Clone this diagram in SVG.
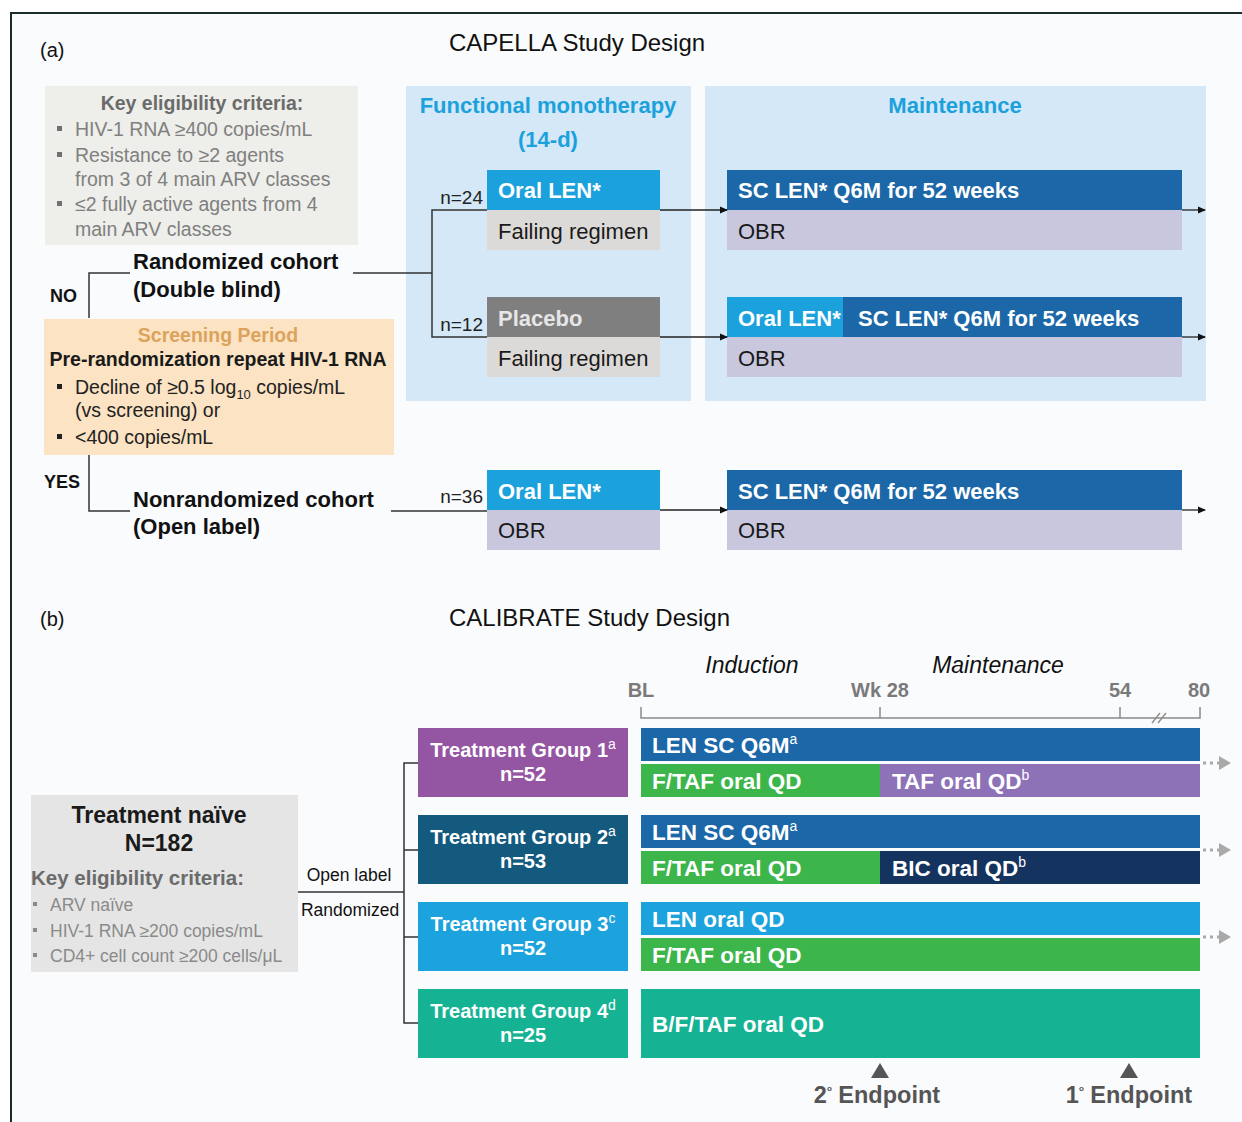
<svg xmlns="http://www.w3.org/2000/svg" width="1242" height="1122" viewBox="0 0 1242 1122">
<defs>
<marker id="ah" markerWidth="8" markerHeight="8" refX="7" refY="4" orient="auto" markerUnits="userSpaceOnUse">
<path d="M0,0.5 L8,4 L0,7.5 Z" fill="#111"/>
</marker>
<marker id="ahg" markerWidth="12" markerHeight="14" refX="11" refY="7" orient="auto" markerUnits="userSpaceOnUse">
<path d="M0,0 L12,7 L0,14 Z" fill="#a9a9a9"/>
</marker>
</defs>
<style>
text{font-family:"Liberation Sans",Arial,sans-serif;}
.b{font-weight:bold;}
.w{fill:#fff;}
.gt{fill:#6b6b6b;}
.gl{fill:#808080;}
.k{fill:#1a1a1a;}
.ln{fill:none;stroke:#333;stroke-width:1.5;}
.arr{fill:none;stroke:#222;stroke-width:1.3;marker-end:url(#ah);}
.ttl{font-size:24px;fill:#111;}
.lbl{font-size:20px;fill:#111;}
.bx{font-size:22px;}
.cohort{font-size:22px;font-weight:bold;fill:#111;}
.ph{font-size:22px;font-weight:bold;fill:#1ba1dc;}
.crit{font-size:19.5px;}
.nn{font-size:19px;fill:#222;}
.tg{font-size:20px;font-weight:bold;fill:#fff;}
.bar{font-size:22.5px;font-weight:bold;fill:#fff;}
.ax{font-size:20px;font-weight:bold;fill:#7a7a7a;}
.it{font-size:23px;font-style:italic;fill:#111;}
.ep{font-size:23.5px;font-weight:bold;fill:#555;}
.sup{font-size:14px;font-weight:normal;}
.oral{fill:#1ba1dc;}
.sclen{fill:#1b67a8;}
.obr{fill:#c8c7de;}
.fail{fill:#dcdad8;}
.green{fill:#3cb54a;}
</style>
<rect x="0" y="0" width="1242" height="1122" fill="#ffffff"/>
<rect id="frame" x="11" y="13" width="1260" height="1140" fill="#fafbfd" stroke="#1d2b2b" stroke-width="2"/>

<!-- ============ (a) CAPELLA ============ -->
<g id="titleA">
<text x="40" y="57" class="lbl">(a)</text>
<text x="449" y="51" class="ttl">CAPELLA Study Design</text>
</g>

<g id="eligibilityA">
<rect x="45" y="86" width="313" height="159" fill="#eeeeea"/>
<text x="202" y="110" class="b crit gt" text-anchor="middle">Key eligibility criteria:</text>
<g fill="#707070">
<rect x="57" y="126" width="5" height="5"/>
<rect x="57" y="152" width="5" height="5"/>
<rect x="57" y="201" width="5" height="5"/>
</g>
<text class="crit gl">
<tspan x="75" y="136">HIV-1 RNA ≥400 copies/mL</tspan>
<tspan x="75" y="162">Resistance to ≥2 agents</tspan>
<tspan x="75" y="186">from 3 of 4 main ARV classes</tspan>
<tspan x="75" y="211">≤2 fully active agents from 4</tspan>
<tspan x="75" y="236">main ARV classes</tspan>
</text>
</g>

<g id="panelFM">
<rect x="406" y="86" width="285" height="315" fill="#d4e8f7"/>
<text x="548" y="113" class="ph" text-anchor="middle">Functional monotherapy</text>
<text x="548" y="147" class="ph" text-anchor="middle">(14-d)</text>
</g>
<g id="panelMaint">
<rect x="705" y="86" width="501" height="315" fill="#d4e8f7"/>
<text x="955" y="113" class="ph" text-anchor="middle">Maintenance</text>
</g>

<g id="screening">
<rect x="44" y="319" width="350" height="136" fill="#fbe3c3"/>
<text x="218" y="342" class="b crit" fill="#dca35c" text-anchor="middle">Screening Period</text>
<text x="218" y="366" class="b crit k" text-anchor="middle">Pre-randomization repeat HIV-1 RNA</text>
<rect x="57" y="384" width="5" height="5" fill="#222"/>
<rect x="57" y="434" width="5" height="5" fill="#222"/>
<text class="crit" fill="#222">
<tspan x="75" y="394">Decline of ≥0.5 log</tspan><tspan font-size="13" dy="5">10</tspan><tspan dy="-5"> copies/mL</tspan>
<tspan x="75" y="417">(vs screening) or</tspan>
<tspan x="75" y="444">&lt;400 copies/mL</tspan>
</text>
</g>

<g id="cohortRandomized">
<text x="133" y="269" class="cohort">Randomized cohort</text>
<text x="133" y="297" class="cohort">(Double blind)</text>
<text x="50" y="302" class="b" font-size="18" fill="#111">NO</text>
</g>
<g id="cohortNonrandomized">
<text x="133" y="507" class="cohort">Nonrandomized cohort</text>
<text x="133" y="534" class="cohort">(Open label)</text>
<text x="44" y="488" class="b" font-size="18" fill="#111">YES</text>
</g>

<g id="armOralLEN24">
<rect x="487" y="170" width="173" height="40" class="oral"/>
<text x="498" y="198" class="bx b w">Oral LEN*</text>
<rect x="487" y="210" width="173" height="40" class="fail"/>
<text x="498" y="239" class="bx k">Failing regimen</text>
<text x="483" y="204" class="nn" text-anchor="end">n=24</text>
</g>
<g id="armPlacebo12">
<rect x="487" y="297" width="173" height="40" fill="#7f7f7f"/>
<text x="498" y="326" class="bx b" fill="#e6e6e6">Placebo</text>
<rect x="487" y="337" width="173" height="40" class="fail"/>
<text x="498" y="366" class="bx k">Failing regimen</text>
<text x="483" y="331" class="nn" text-anchor="end">n=12</text>
</g>
<g id="armOralLEN36">
<rect x="487" y="470" width="173" height="40" class="oral"/>
<text x="498" y="499" class="bx b w">Oral LEN*</text>
<rect x="487" y="510" width="173" height="40" class="obr"/>
<text x="498" y="538" class="bx k">OBR</text>
<text x="483" y="503" class="nn" text-anchor="end">n=36</text>
</g>

<g id="maint1">
<rect x="727" y="170" width="455" height="40" class="sclen"/>
<text x="738" y="198" class="bx b w">SC LEN* Q6M for 52 weeks</text>
<rect x="727" y="210" width="455" height="40" class="obr"/>
<text x="738" y="239" class="bx k">OBR</text>
</g>
<g id="maint2">
<rect x="727" y="297" width="116" height="40" class="oral"/>
<rect x="843" y="297" width="339" height="40" class="sclen"/>
<text x="738" y="326" class="bx b w">Oral LEN*</text>
<text x="858" y="326" class="bx b w">SC LEN* Q6M for 52 weeks</text>
<rect x="727" y="337" width="455" height="40" class="obr"/>
<text x="738" y="366" class="bx k">OBR</text>
</g>
<g id="maint3">
<rect x="727" y="470" width="455" height="40" class="sclen"/>
<text x="738" y="499" class="bx b w">SC LEN* Q6M for 52 weeks</text>
<rect x="727" y="510" width="455" height="40" class="obr"/>
<text x="738" y="538" class="bx k">OBR</text>
</g>

<g id="connectorsA">
<path class="ln" d="M130,273 H89 V318"/>
<path class="ln" d="M89,455 V511 H130"/>
<path class="ln" d="M353,273 H432"/>
<path class="ln" d="M487,210 H432 V337 H487"/>
<path class="ln" d="M391,511 H487"/>
<line class="arr" x1="660" y1="210" x2="727" y2="210"/>
<line class="arr" x1="660" y1="337" x2="727" y2="337"/>
<line class="arr" x1="660" y1="510" x2="727" y2="510"/>
<line class="arr" x1="1182" y1="210" x2="1205" y2="210"/>
<line class="arr" x1="1182" y1="337" x2="1205" y2="337"/>
<line class="arr" x1="1182" y1="510" x2="1205" y2="510"/>
</g>

<!-- ============ (b) CALIBRATE ============ -->
<g id="titleB">
<text x="40" y="626" class="lbl">(b)</text>
<text x="449" y="626" class="ttl">CALIBRATE Study Design</text>
</g>

<g id="naive">
<rect x="31" y="795" width="267" height="177" fill="#e5e5e5"/>
<text x="159" y="823" class="b k" font-size="23" text-anchor="middle">Treatment naïve</text>
<text x="159" y="851" class="b k" font-size="23" text-anchor="middle">N=182</text>
<text x="31" y="885" class="b gt" font-size="20.5">Key eligibility criteria:</text>
<g fill="#8a8a8a">
<rect x="33" y="902" width="4" height="4"/>
<rect x="33" y="928" width="4" height="4"/>
<rect x="33" y="953" width="4" height="4"/>
</g>
<text font-size="17.5" fill="#8a8a8a">
<tspan x="50" y="911">ARV naïve</tspan>
<tspan x="50" y="937">HIV-1 RNA ≥200 copies/mL</tspan>
<tspan x="50" y="962">CD4+ cell count ≥200 cells/μL</tspan>
</text>
</g>

<g id="randLabel">
<text x="349" y="881" font-size="17.5" fill="#111" text-anchor="middle">Open label</text>
<text x="350" y="916" font-size="17.5" fill="#111" text-anchor="middle">Randomized</text>
</g>

<g id="tg1">
<rect x="418" y="728" width="210" height="69" fill="#9455a3"/>
<text x="523" y="757" class="tg" text-anchor="middle">Treatment Group 1<tspan class="sup" dy="-8">a</tspan></text>
<text x="523" y="781" class="tg" text-anchor="middle">n=52</text>
</g>
<g id="tg2">
<rect x="418" y="815" width="210" height="69" fill="#135a7e"/>
<text x="523" y="844" class="tg" text-anchor="middle">Treatment Group 2<tspan class="sup" dy="-8">a</tspan></text>
<text x="523" y="868" class="tg" text-anchor="middle">n=53</text>
</g>
<g id="tg3">
<rect x="418" y="902" width="210" height="69" fill="#1ca2dd"/>
<text x="523" y="931" class="tg" text-anchor="middle">Treatment Group 3<tspan class="sup" dy="-8">c</tspan></text>
<text x="523" y="955" class="tg" text-anchor="middle">n=52</text>
</g>
<g id="tg4">
<rect x="418" y="989" width="210" height="69" fill="#15b394"/>
<text x="523" y="1018" class="tg" text-anchor="middle">Treatment Group 4<tspan class="sup" dy="-8">d</tspan></text>
<text x="523" y="1042" class="tg" text-anchor="middle">n=25</text>
</g>

<g id="timeline">
<text x="752" y="673" class="it" text-anchor="middle">Induction</text>
<text x="998" y="673" class="it" text-anchor="middle">Maintenance</text>
<text x="641" y="697" class="ax" text-anchor="middle">BL</text>
<text x="880" y="697" class="ax" text-anchor="middle">Wk 28</text>
<text x="1120" y="697" class="ax" text-anchor="middle">54</text>
<text x="1199" y="697" class="ax" text-anchor="middle">80</text>
<path d="M641,707 V718 H1200 V707 M880,707 V718 M1120,707 V718" fill="none" stroke="#8a8a8a" stroke-width="1.5"/>
<path d="M1152,723 L1160,713 M1158,723 L1166,713" fill="none" stroke="#8a8a8a" stroke-width="1.3"/>
</g>

<g id="bars1">
<rect x="641" y="728" width="559" height="33" class="sclen"/>
<text x="652" y="753" class="bar">LEN SC Q6M<tspan class="sup" dy="-9">a</tspan></text>
<rect x="641" y="764" width="239" height="33" class="green"/>
<rect x="880" y="764" width="320" height="33" fill="#8e72b8"/>
<text x="652" y="789" class="bar">F/TAF oral QD</text>
<text x="892" y="789" class="bar">TAF oral QD<tspan class="sup" dy="-9">b</tspan></text>
</g>
<g id="bars2">
<rect x="641" y="815" width="559" height="33" class="sclen"/>
<text x="652" y="840" class="bar">LEN SC Q6M<tspan class="sup" dy="-9">a</tspan></text>
<rect x="641" y="851" width="239" height="33" class="green"/>
<rect x="880" y="851" width="320" height="33" fill="#14345f"/>
<text x="652" y="876" class="bar">F/TAF oral QD</text>
<text x="892" y="876" class="bar">BIC oral QD<tspan class="sup" dy="-9">b</tspan></text>
</g>
<g id="bars3">
<rect x="641" y="902" width="559" height="33" fill="#1ca2dd"/>
<text x="652" y="927" class="bar">LEN oral QD</text>
<rect x="641" y="938" width="559" height="33" class="green"/>
<text x="652" y="963" class="bar">F/TAF oral QD</text>
</g>
<g id="bars4">
<rect x="641" y="989" width="559" height="69" fill="#15b394"/>
<text x="652" y="1032" class="bar">B/F/TAF oral QD</text>
</g>

<g id="endpoints">
<path d="M880,1063 L889,1078 L871,1078 Z" fill="#555"/>
<path d="M1129,1063 L1138,1078 L1120,1078 Z" fill="#555"/>
<text x="877" y="1103" class="ep" text-anchor="middle">2<tspan font-size="8" dy="-12">o</tspan><tspan dy="12"> Endpoint</tspan></text>
<text x="1129" y="1103" class="ep" text-anchor="middle">1<tspan font-size="8" dy="-12">o</tspan><tspan dy="12"> Endpoint</tspan></text>
</g>

<g id="connectorsB">
<path class="ln" d="M298,892 H404"/>
<path class="ln" d="M418,763 H404 V1023 H418 M404,850 H418 M404,937 H418"/>
<line x1="1203" y1="763" x2="1230" y2="763" stroke="#a9a9a9" stroke-width="3" stroke-dasharray="3,4" marker-end="url(#ahg)"/>
<line x1="1203" y1="850" x2="1230" y2="850" stroke="#a9a9a9" stroke-width="3" stroke-dasharray="3,4" marker-end="url(#ahg)"/>
<line x1="1203" y1="937" x2="1230" y2="937" stroke="#a9a9a9" stroke-width="3" stroke-dasharray="3,4" marker-end="url(#ahg)"/>
</g>
</svg>
